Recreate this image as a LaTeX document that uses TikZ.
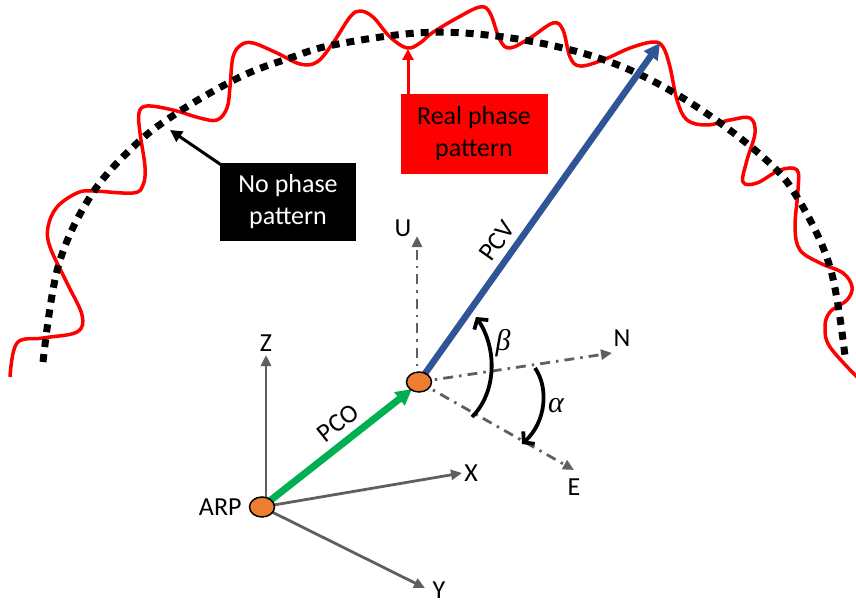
\documentclass[tikz,border=0pt]{standalone}
\usepackage{fontspec}
\setmainfont{Carlito}
\newfontfamily\greekit{Liberation Serif}
\usetikzlibrary{arrows.meta, shapes.geometric, positioning}
\definecolor{axgray}  {RGB}{95,95,95}
\definecolor{antorange}{RGB}{237,125,49}
\definecolor{pcogreen}{RGB}{0,176,80}
\definecolor{pcvblue} {RGB}{47,85,151}
\definecolor{realred} {RGB}{255,0,0}

\begin{document}
\begin{tikzpicture}[x=1pt, y=-1pt,
  lbl/.style={font=\fontsize{26}{31}\selectfont, inner sep=0pt},
  anglbl/.style={font=\greekit\itshape\fontsize{30}{34}\selectfont,
                 inner sep=0pt},
  boxlbl/.style={font=\fontsize{26}{32}\selectfont, align=center,
                 inner sep=0pt},
  axis/.style={axgray, line width=2.8pt, -{Triangle[length=11pt,width=10pt]}},
  enuaxis/.style={axis, dash pattern=on 10pt off 6pt on 2.5pt off 6pt},
  bigvec/.style={line width=7pt, -{Triangle[length=16pt,width=16pt]}},
  anglearc/.style={line width=3.8pt, -{Straight Barb[length=7pt,width=17pt]}},
  antdot/.style={ellipse, draw=black, line width=1.5pt, fill=antorange,
                 minimum width=25pt, minimum height=20pt, inner sep=0pt}]
  \useasboundingbox (0,0) rectangle (856,604);

  % real and ideal phase patterns
  \draw[realred, line width=3.5pt] plot[smooth, tension=0.6] coordinates {
    (10,377) (17,343) (43,338) (77,332) (82,315) (67,283) (50,247) (48,227)
    (57,207) (77,193) (93,191) (133,193) (143,185) (145,167) (140,133)
    (139,113) (147,106) (173,110) (200,118) (217,120) (227,108) (230,87)
    (233,57) (241,45) (253,43) (277,53) (300,64) (317,62) (333,43) (350,17)
    (360,11) (373,17) (390,37) (407,48) (420,43) (432,33) (457,18) (480,7)
    (490,13) (500,40) (510,48) (530,38) (553,23) (563,30) (570,57) (580,66)
    (603,60) (630,48) (653,42) (663,47) (670,67) (677,100) (687,120)
    (707,125) (730,120) (750,118) (755,133) (747,160) (743,182) (757,183)
    (780,170) (797,170) (798,190) (795,227) (800,250) (820,263) (843,273)
    (852,287) (847,300) (830,312) (825,327) (830,347) (858,378)};
  \draw[black, line width=7pt, dash pattern=on 8pt off 7pt]
    plot[smooth, tension=0.6] coordinates {
    (43,362) (58,267) (90,197) (133,147) (177,113) (240,77) (290,58)
    (333,45) (417,33) (487,35) (563,48) (630,70) (697,107) (763,157)
    (797,197) (830,267) (845,356)};

  % callouts
  \node[boxlbl, fill=realred, text=black, minimum width=147pt,
        minimum height=80pt] (realbox) at (474,134) {Real phase\\pattern};
  \node[boxlbl, fill=black, text=white, minimum width=136pt,
        minimum height=78pt] (nobox) at (288,202) {No phase\\pattern};
  \coordinate (realpt) at (408,49);
  \coordinate (nopt) at (170,130);
  \draw[realred, line width=3pt, -{Triangle[length=11pt,width=11pt]}]
    (realbox.north -| realpt) -- (realpt);
  \draw[black, line width=3pt, -{Triangle[length=12pt,width=12pt]}]
    ([shift={(13,10)}]nobox.north west) -- (nopt);

  % ARP frame
  \coordinate (arpc) at (262,507);
  \coordinate (ztip) at (266,355);
  \coordinate (xtip) at (462,473);
  \coordinate (ytip) at (425,588);
  \draw[axis] (arpc -| ztip) -- (ztip);
  \draw[axis] (arpc) -- (xtip);
  \draw[axis] (arpc) -- (ytip);

  % local ENU frame at the phase centre
  \coordinate (pcc) at (419,382);
  \coordinate (utip) at (417,236);
  \coordinate (ntip) at (612,353);
  \coordinate (etip) at (574,470);
  \draw[enuaxis] (pcc -| utip) -- (utip);
  \draw[enuaxis] (pcc) -- (ntip);
  \draw[enuaxis] (pcc) -- (etip);

  % offset and variation vectors
  \draw[bigvec, pcogreen] (arpc) -- (412,389);
  \draw[bigvec, pcvblue, line width=6.5pt] (pcc) -- (660,43);

  \node[antdot] (arp) at (arpc) {};
  \node[antdot] (pc) at (pcc) {};

  % angles
  \draw[anglearc] (472,417) .. controls (497,392) and (497,348) .. (476,317);
  \draw[anglearc] (535,368) .. controls (549,388) and (546,422) .. (522,444);

  \node[lbl] (zlbl) at (266,343) {Z};
  \node[lbl] (xlbl) at (471,473) {X};
  \node[lbl, anchor=south] (ylbl) at (439,599) {Y};
  \node[lbl, left=7pt of arp] (arplbl) {ARP};
  \node[lbl] (ulbl) at (403,228) {U};
  \node[lbl] (nlbl) at (622,338) {N};
  \node[lbl] (elbl) at (574,487) {E};
  \node[lbl, rotate=38.5] (pcolbl) at (338,423) {PCO};
  \node[lbl, rotate=54.6] (pcvlbl) at (497,241) {PCV};
  \node[anglbl] (betalbl) at (503,343) {β};
  \node[anglbl] (alphalbl) at (556,406) {α};
\end{tikzpicture}
\end{document}
